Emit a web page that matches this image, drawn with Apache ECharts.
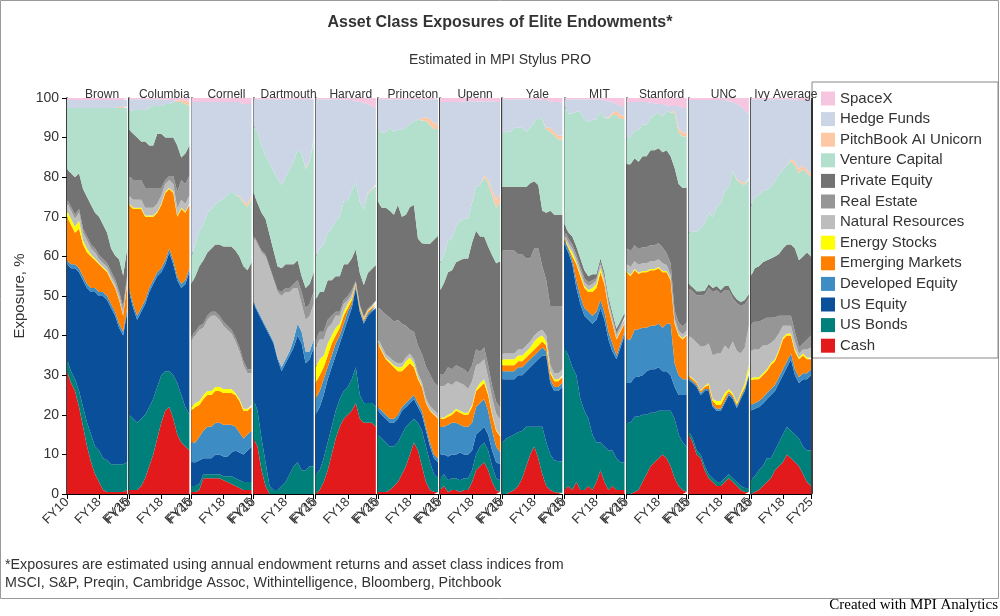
<!DOCTYPE html>
<html><head><meta charset="utf-8">
<script src="https://cdn.jsdelivr.net/npm/echarts@6/dist/echarts.min.js"></script>
<style>html,body{margin:0;padding:0;background:#fff}#c{width:1000px;height:616px}</style>
</head><body><div id="c"></div>
<script>
const years = ['FY10','FY11','FY12','FY13','FY14','FY15','FY16','FY17','FY18','FY19','FY20','FY21','FY22','FY23','FY24','FY25'];
const schools = ['Brown','Columbia','Cornell','Dartmouth','Harvard','Princeton','Upenn','Yale','MIT','Stanford','UNC','Ivy Average'];
const xTickLabels = ['FY10','FY18','FY25'];

const cash = [
[31,28,26,22,17,12,8,5,3,1,0.5,0.5,0.5,0.5,0.5,1],
[1,1,1,2,4,7,10,14,18,21,22,19,15,13,12,11],
[0.5,0.5,1,4,4,4,4,4,3.5,3,2.5,2,1.5,1,1,1],
[14,12,6,2,0,0,0,0,0,0,0,0,0,0,0,0],
[0,1,3,6,10,14,17,19,20,21,23,19,18,18,18,17],
[0.5,0.5,0.5,1,2,3,5,7,10,13,11,7,3,1,0.5,0.5],
[1,2,0.5,1,1,0.5,1,1,3,6,7,8,6,3,1,0.5],
[0,0,0.5,1,2,4,7,10,12,9,5,2,1,0.5,0.3,0.3],
[1,2,1,3,1,1,2,1,3,6,3,1,2,1,1,1],
[0,0,0.5,1,3,5,7,8,9,10,9,7,4,2,1,0.5],
[15,13,10,9,6,4,3,2,2,3,4,3,2,1,0.5,0.5],
[0,0.5,1,2,3,4,6,7,8,10,9,8,7,5,3,2]];
const usBonds = [
[3,3,3,4,5,6,7,7,8,8,8,7,7,7,7,7],
[19,18,17,17,16,15,14,13,12,10,9,11,13,12,10,9],
[1.5,1.5,1.5,1,1,1,1,1,1,1.5,2,2,2,2,2,2],
[10,9,8,6,2,1,1,2,3,5,7,8,6,6,7,7],
[5,5,6,7,7,7,7,7,7,8,9,6,5,5,5,5],
[14.5,13.5,12.5,11,10,10,10,10,8,6,7,9,9,7,4.5,3.5],
[3,3,3,3,3,3,3,3,3,4,5,5,5,4,3,3],
[13,14,14,14,13.6,12,10,7,5,8,12,11,9,8,8,8],
[36,33,31,27,23,20,17,14,10,7,9,10,9,8,7,7],
[18,18,19,18.6,17,15,13.5,12.5,12,11,12,14,15,13,12,11.5],
[1,1,1,1,1,1,1,1,1,1,1,1,1,1,1,1],
[3.5,4,5,5,6,5,5,6,7,7,7,7,7,7,8,9]];
const usEquity = [
[24,26,28,30,32,34,36,39,39,41,40.5,39.5,37.5,34.5,32.5,38],
[31,28,26,27,28,29,29,28,26,27,30,28,26,27,31,36],
[6,6,6,4,4,4,5,5,5,5,6,7,7,7,8,9],
[24,25,30,34,38,37,33,29,30,30,30,32,32,27,27,30],
[15,16,16,16,15,14,14,15,17,18,20,21,20,22,23,25],
[6,6,6,6,6,6,6,5,5,5,4,4,4,4,4,4],
[6,5,6,6,6,7,6,6,5,5,4,4,4,4,4,4],
[16,15,14.5,14,14.4,14,14,15,16,17,18,22,18,17.5,17.7,18.7],
[26,26,26,22,24,24,25,28,31,34,32,28,25,25,29,32],
[10,10,10,10,10,11,11,11,11,10,10,9,8,10,12,13],
[12.8,14,16,15,19,21,18,18,18,19,20,20,18.7,22,24.5,28.5],
[17.5,17,16,15.8,15,16,15,15,15,15,18,15,14,17,18,19]];
const devEquity = [
[1,1,1,1,1,1,1,1,1,1,1,1,1,1,1,1],
[1,1,1,1,1,1,1,1,1,1,1,1,1,1,1,1],
[5,5,6,7,8,8,8,8,8,8,7,6,5,4,4,4],
[0.5,0.5,0.5,0.5,0.5,0.5,0.5,1,1,1,2,3,3,3,2,2],
[4,4,4,3,3,3,2,2,2,1,0.5,0.5,0.5,0.5,0.5,0.5],
[1,1,1,1,1,1,1,1,1,1,1,1,1,1,1,1],
[7,7,8,8,8,7,7,7,7,7,7,7,6,5,4,3],
[2,2,2,2,2,2,2,2,2,2,2,1,1,1,1,1],
[1,1,1,2,2,2,2,2,2,2,2,2,2,1,1,1],
[11,11,12,12,12,11,11,11,11,11,12,13,6,5,4,4],
[0.5,0.5,0.5,0.5,0.5,0.5,0.5,0.5,0.5,0.5,0.5,0.5,0.5,0.5,0.5,0.5],
[1.5,1.5,1.5,1.5,1.5,1.5,1.5,1.5,1.5,1.5,1.5,1.5,1.5,1.5,1.5,1.5]];
const emMarkets = [
[11,10,8,10,8,8,8,7,7,6,6,6,6,6,4,6],
[21,24,27,25,21,18,16,15,16,17,15,17,15,19,17,16],
[8,9,8,8,8,8,8,8,8,8,8,8,8,7,6,6],
[0,0,0,0,0,0,0,0,0,0,0,0,0,0,0,0],
[4,4,3,3,3,2,2,2,1,1,0.5,0.5,0.5,0.5,0.5,0.5],
[16,15,14,14,13,11,9,9,9,7,6,6,6,8,10,10],
[2,2,2,2,3,3,3,3,4,4,4,4,4,4,4,4],
[1.5,1.5,1.5,1.5,1.5,1.5,1.5,1.5,1.5,1.5,1.5,1.5,1.5,1.5,1.5,1.5],
[0.3,0.3,1,4,5,5,5,6,6,7,7,6,5,4,3,2],
[17,16,15,14,14,14,14,14,14,14,13,11,10,10,10,11],
[0.5,0.5,0.5,0.5,0.5,1,1,1,1,1,0.5,0.5,0.5,0.5,0.5,0.5],
[6.3,6,5.5,5.7,5.5,6.1,6,6.5,7.5,6.5,4.5,4.5,4.5,4.5,3.5,2.5]];
const energy = [
[1.5,1.5,1.5,2,1,1,0.5,0.5,0.3,0.3,0.3,0.2,0.2,0.2,0.2,0.2],
[0.3,0.3,0.3,0.3,0.3,0.3,0.3,0.3,0.3,0.3,0.3,0.3,0.3,0.3,0.3,0.3],
[1,1,1,1,1,1,1,1,1,1,1,0.5,0.5,0.5,0.5,0.5],
[0,0,0,0,0,0,0,0,0,0,0,0,0,0,0,0],
[4,4,3,3,2,2,1,1,1,0.5,0.2,0.2,0.2,0.2,0.2,0.2],
[0.3,0.3,0.3,0.5,0.5,1,1,1.5,1.5,1,0.5,0.3,0.2,0.2,0.2,0.2],
[0.3,0.3,0.5,0.5,0.5,0.5,0.5,0.5,0.5,0.5,1,1,0.5,0.3,0.3,0.3],
[1.5,1.5,1.5,1.5,1.5,1.5,1.5,1.5,2,2,1.5,1,0.5,0.5,0.5,0.5],
[0.3,0.3,1,0.5,0.5,0.5,0.5,1,1,1,0.5,0.3,0.2,0.2,0.2,0.2],
[0.3,0.3,0.3,0.3,0.3,0.3,0.3,0.3,0.3,0.3,0.3,0.3,0.3,0.3,0.3,0.3],
[0.2,0.2,0.2,0.2,0.3,0.5,0.5,1,1,1,0.5,0.5,0.5,0.5,1,1.5],
[0.5,0.5,0.5,0.5,0.5,0.5,0.5,0.5,0.5,0.5,0.5,0.5,0.5,0.5,0.5,0.5]];
const natResources = [
[2,2,2,2,2,2,1.5,1.5,1,1,1,1,1,1,1,1],
[2,2,2,2,2,2,2,2,2,2,2,2,2,2,2,2],
[17,17,18,17,18,19,18,17,16,15,14,13,12,11,9,8],
[16.5,16.5,16.5,17.5,16.5,15.5,16.5,18,17,15,13,9,7,8,9,9],
[5,5,4,4,3,3,2,2,1,1,0.3,0.3,0.3,0.3,0.3,0.3],
[1,1,1,1,1,1,1,1,1,1,1,1,1,1,1,1],
[8,8,8,7,7,7,7,6,6,6,5,5,4,4,4,4],
[1.5,1.5,1.5,1.5,1.5,1.5,1.5,1.5,1.5,1.5,1.5,1.5,1.5,1.5,1.5,1.5],
[1,1,1,1,1,1,1,1,1,1,1,1,1,1,1,1],
[2,2,2,2,2,2,2,2,2,2,1.5,1,1,1,1,1],
[10,10,10,11,10,10,11,12,12,12,10,13,13,10,9,10],
[7,7,7,7,6,5,5,4,3,2,2,2,1,1,2,2.5]];
const realEstate = [
[1,1,1,1,1,1,1,1,1,1,1,1,1,1,1,1],
[5,5,5,5,5,5,5,4,2,1,1,2,4,5,5,5],
[1,1,1,1,1,1,1,1,1,1,1,1,1,1,1,1],
[0.5,0.5,0.5,0.5,0.5,0.5,0.5,1,1,1,1,2,3,3,3,3],
[2,2,2,2,2,1,1,1,1,1,0.3,0.3,0.3,0.3,0.3,0.3],
[8,9,10,10,10,11,10,8,6,7,7,7,8,8,7,7],
[3,3,4,4,4,4,4,4,4,4,3,3,3,3,3,3],
[26,26,26,26,24,24,22,21,22,21,16,14,15,17,17,16],
[1,1,1,1,1,1,1,1,0.5,0.5,0.5,0.5,0.5,0.5,0.5,0.5],
[4,4,4,4,4,4,4,4,4,4,3,3,2,2,2,2],
[12,12,12,13,13,14,16,16,15,14,15,11,12,12,11,7],
[6.7,7,7,6.5,7,6.4,5.6,4.5,2.5,2.5,2.5,2.5,1.5,1.5,2.5,3]];
const privEquity = [
[7.5,8.5,9.5,9,10,10,10,9,9.7,8.7,7.7,5.8,6,8,8,6.8],
[11.7,11.7,10.7,9.7,11.7,10.7,10.7,13.7,13.7,10.7,9.7,9.7,11.7,5.7,7.7,7.7],
[13,14,15,16,16,16,17,18,19,20,21,22,23,24,25,27],
[10.5,10,9.5,9,8,7,6,6,6,6,5,5,4,5,5,5],
[10,10,10,10,9,9,9,9,8,8,8,8,8,9,9,9],
[26.5,26,27,27,27,29,27,28,31,32,27,28,31,33,36,38],
[21,23,24,25,26,27,28,29,31,30,29,28,30,33,35,37],
[16,16,16,16,17,17,18,19,17,16,14,17,24,23,23,23],
[1.5,1.5,2,2,2,2,1.5,1.5,1,1,1,1,1,1,1,1],
[21,22,22,22,23,23,24,24,24,24,26,27,36,35,35,34],
[1,1,1,1,1,1,1,1,1,1,1,1,1,1,1,1],
[12,13.5,14,14.5,14.5,15,15.4,15.6,17,18,18,21,22,22,22,20]];
const ventureCap = [
[15.5,16.5,17.5,16.5,20.5,22.5,24.5,26.5,27.5,29.5,31.5,35.5,37.3,38.3,42.3,35.5],
[4.5,6,7,8,8,9.5,10,7,7,8.5,8.5,9,11,14,12.5,10],
[7,8,9,9,10,10,10,11,12,13,14,14,15,16,16,16],
[17,18,17,16,18,20,22,21,22,24,26,28,31,30,31,33],
[11,11,12,12,13,14,15,16,16,17,17,18,19,20,20,20],
[18,19,19,21,21,19,22,22,21,21,30,31,31,30,28,27],
[7,7,8,8,9,10,10,10,10,11,13,15,16,15,14,15],
[13.6,14,14,15,15,15,14,14,15,17,23,21,20,20,19,19],
[30,30,31,34,37,38,39,39,39,37,39,45,50,54,51,49],
[6.5,7,7,8,8,8,8,9,9,9,10,11,14,13,13,13],
[13,14,15,16,17,18,18,20,22,24,25,31,30,30,29,29],
[17.6,18,18,18,17.8,18,19,20,20,20,21,21,22,22,20,20]];
const aiUnicorn = [
[0,0,0,0,0,0,0,0,0,0,0,0,0,0.2,0.3,0.3],
[0,0,0,0,0,0,0,0,0,0,0,0,0.3,0.5,0.8,1],
[0,0,0,0,0,0,0,0,0,0,0,0,0.3,0.5,0.8,0.8],
[0,0,0,0,0,0,0,0,0,0,0,0,0,0.3,0.3,0.3],
[0,0,0,0,0,0,0,0,0,0,0,0,0,0.3,0.3,0.3],
[0,0,0,0,0,0,0,0,0,0,0,0.5,1,1.5,1.5,1],
[0,0,0,0,0,0,0,0,0,0,0,0.5,1,1.5,2,2],
[0,0,0,0,0,0,0,0,0,0,0,0.5,1,1,1,1],
[0,0,0,0,0,0,0,0,0,0,0,0.3,0.5,1,1,0.8],
[0,0,0,0,0,0,0,0,0,0,0,0,0.5,1,1,1],
[0,0,0,0,0,0,0,0,0,0,0,0,0.3,0.5,0.5,0.3],
[0,0,0,0,0,0,0,0,0,0,0.5,1,1,1,0.8,0.8]];
const spaceX = [
[0.5,0.5,0.5,0.5,0.5,0.5,0.5,0.5,0.5,0.5,0.5,0.5,0.5,0.5,0.5,0.5],
[0.3,0.3,0.3,0.3,0.3,0.3,0.3,0.3,0.3,0.3,0.5,0.5,0.8,1,1,1],
[1,1,1,1,1,1,1,1,1,1,1,1,1,1.5,1.5,1.5],
[0.3,0.3,0.3,0.3,0.3,0.3,0.3,0.3,0.3,0.3,0.3,0.3,0.3,0.3,0.3,0.3],
[0.3,0.3,0.3,0.3,0.3,0.3,0.3,0.3,0.5,0.5,0.8,1,1.2,1.5,2,2.5],
[0.3,0.3,0.3,0.3,0.3,0.3,0.3,0.3,0.3,0.3,0.3,0.3,0.3,0.3,0.3,0.3],
[1,1,1,1,1,1,0.8,0.8,0.8,0.8,0.8,0.8,0.8,0.8,1,1],
[0.3,0.3,0.3,0.3,0.3,0.3,0.3,0.3,0.3,0.3,0.5,0.5,0.8,1,1,1.2],
[0.3,0.3,0.3,0.3,0.3,0.3,0.3,0.3,0.3,0.3,0.5,0.8,1,1.5,2,2],
[1,1,1,1,1,1,1.2,1.3,1.5,1.5,1.8,2,2,2,2.5,2.5],
[0.5,0.5,0.5,0.5,0.5,0.5,0.5,0.5,0.5,0.5,0.8,1,1.5,2,3,4],
[0.3,0.3,0.3,0.3,0.3,0.3,0.3,0.3,0.3,0.3,0.3,0.3,0.5,0.5,0.5,0.5]];

// Hedge Funds fill the remainder up to the 100% stack top seen in the chart
const hedgeFunds = schools.map((s, i) => years.map((y, j) => {
  const used = [cash,usBonds,usEquity,devEquity,emMarkets,energy,natResources,realEstate,privEquity,ventureCap,aiUnicorn,spaceX]
    .reduce((a, arr) => a + arr[i][j], 0);
  return Math.max(0, +(100 - used).toFixed(2));
}));

const layers = [
  ['Cash', cash, '#e31a1c'],
  ['US Bonds', usBonds, '#00807a'],
  ['US Equity', usEquity, '#0a4f9a'],
  ['Developed Equity', devEquity, '#3d8dc4'],
  ['Emerging Markets', emMarkets, '#ff7f00'],
  ['Energy Stocks', energy, '#ffff00'],
  ['Natural Resources', natResources, '#bdbdbd'],
  ['Real Estate', realEstate, '#969696'],
  ['Private Equity', privEquity, '#737373'],
  ['Venture Capital', ventureCap, '#b2e0cc'],
  ['PitchBook AI Unicorn', aiUnicorn, '#fdc9a4'],
  ['Hedge Funds', hedgeFunds, '#cbd5e6'],
  ['SpaceX', spaceX, '#f6c6e0']
];

const L = 66, R = 812, T = 98, B = 494;
const pw = (R - L) / schools.length;
const grids = [], xAxes = [], yAxes = [], series = [], titles = [];
const showIdx = i => xTickLabels.includes(years[i]);
schools.forEach((s, i) => {
  grids.push({left: L + i * pw + 1, width: pw - 2, top: T, height: B - T});
  xAxes.push({type: 'category', gridIndex: i, data: years, boundaryGap: false,
    axisLine: {lineStyle: {color: '#000', width: 1}},
    axisTick: {show: true, interval: (k) => showIdx(k), lineStyle: {color: '#000'}, length: 5},
    axisLabel: {interval: (k) => showIdx(k), rotate: 45, color: '#333', fontSize: 13, fontFamily: 'Arial, Liberation Sans', margin: 6}});
  yAxes.push({type: 'value', gridIndex: i, min: 0, max: 100, interval: 10,
    name: i === 0 ? 'Exposure, %' : '', nameLocation: 'middle', nameGap: 40,
    nameTextStyle: {fontSize: 15, color: '#333', fontFamily: 'Arial, Liberation Sans'},
    axisLine: {show: true, lineStyle: {color: '#000', width: 1.5}},
    axisTick: {show: i === 0, lineStyle: {color: '#000'}},
    axisLabel: {show: i === 0, color: '#333', fontSize: 14, fontFamily: 'Arial, Liberation Sans'},
    splitLine: {show: false}});
  titles.push({text: s, left: L + i * pw + pw / 2, top: 84, textAlign: 'center',
    textStyle: {fontSize: 12, fontWeight: 'normal', color: '#333', fontFamily: 'Arial, Liberation Sans'}});
  layers.forEach(([name, arr, color]) => {
    series.push({name, type: 'line', xAxisIndex: i, yAxisIndex: i, stack: 'g' + i,
      data: arr[i], symbol: 'none', lineStyle: {width: 0}, areaStyle: {color, opacity: 1},
      itemStyle: {color}, emphasis: {disabled: true}, silent: true});
  });
});

titles.unshift({text: 'Asset Class Exposures of Elite Endowments*', left: 'center', top: 10,
  textStyle: {fontSize: 16, fontWeight: 'bold', color: '#333', fontFamily: 'Arial, Liberation Sans'}});
titles.push({text: 'Estimated in MPI Stylus PRO', left: 'center', top: 48,
  textStyle: {fontSize: 14, fontWeight: 'normal', color: '#333', fontFamily: 'Arial, Liberation Sans'}});

const chart = echarts.init(document.getElementById('c'));
chart.setOption({
  animation: false,
  title: titles,
  legend: {orient: 'vertical', left: 816, top: 86, itemWidth: 14, itemHeight: 14, itemGap: 5.6,
    icon: 'rect', data: layers.map(l => l[0]).reverse(),
    textStyle: {fontSize: 15, color: '#333', fontFamily: 'Arial, Liberation Sans'}},
  grid: grids, xAxis: xAxes, yAxis: yAxes, series,
  graphic: [
    {type: 'rect', shape: {x: 0.5, y: 0.5, width: 998, height: 598}, style: {fill: 'none', stroke: '#999', lineWidth: 1}, silent: true},
    {type: 'rect', shape: {x: 812, y: 82, width: 186, height: 276}, style: {fill: 'none', stroke: '#888', lineWidth: 1}, silent: true},
    {type: 'line', shape: {x1: R, y1: T, x2: R, y2: B}, style: {stroke: '#000', lineWidth: 1.5}},
    {type: 'text', left: 5, top: 556, style: {text: '*Exposures are estimated using annual endowment returns and asset class indices from\nMSCI, S&P, Preqin, Cambridge Assoc, Withintelligence, Bloomberg, Pitchbook', fontSize: 14.3, lineHeight: 18, fill: '#333', fontFamily: 'Arial, Liberation Sans'}},
    {type: 'text', right: 2, top: 598, style: {text: 'Created with MPI Analytics', fontSize: 15, fill: '#000', fontFamily: 'Liberation Serif, serif'}}
  ]
});
</script></body></html>
